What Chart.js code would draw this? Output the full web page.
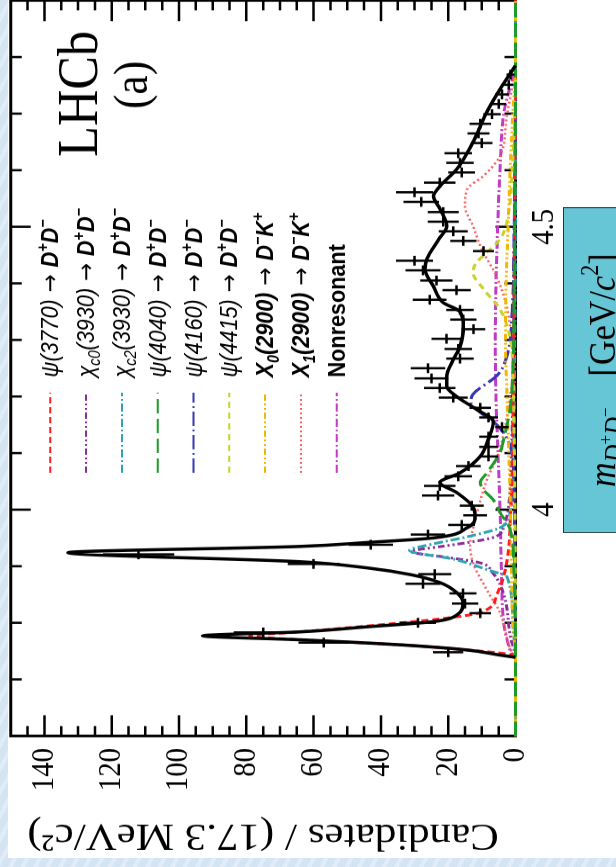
<!DOCTYPE html>
<html>
<head>
<meta charset="utf-8">
<script src="https://cdn.jsdelivr.net/npm/chart.js@4.4.1/dist/chart.umd.min.js"></script>
<style>
html, body { margin: 0; padding: 0; }
body { width: 616px; height: 867px; overflow: hidden; background: #d5e5f4; }
#page { position: relative; width: 616px; height: 867px; overflow: hidden;
  background: repeating-linear-gradient(118deg, #d4e4f3 0 7px, #e0ecf8 7px 11px); }
#sheet { position: absolute; left: 8px; top: 0; width: 608px; height: 858px; background: #fff; }
/* the figure is drawn upright, squeezed a little along the mass axis and turned a quarter turn, like on the slide */
#rot { position: absolute; left: 0; top: 0; width: 980px; height: 616px;
  transform-origin: 0 0; transform: translate(0px, 876px) rotate(-90deg) scaleX(0.9); }
#rot canvas { position: absolute; left: 0; top: 0; }
#xlabel { position: absolute; left: 381px; top: 563px; width: 362px; height: 62px;
  box-sizing: border-box; background: #67c6d6; border: 1.5px solid #24383c;
  font-family: "Liberation Serif", serif; line-height: 52px;
  text-align: center; color: #000; white-space: nowrap; overflow: hidden; }
#xlabelText { font-size: 38px; display: inline-block; }
#xlabel sub { font-size: 0.72em; vertical-align: -0.3em; }
#xlabel sub sup { font-size: 0.7em; vertical-align: 0.6em; }
#xlabelText > sup { font-size: 0.65em; vertical-align: 0.7em; }
#xlabel .gap { display: inline-block; width: 0.9em; }
</style>
</head>
<body>
<div id="page">
  <div id="sheet"></div>
  <div id="rot">
    <canvas id="chart" width="980" height="616"></canvas>
    <div id="xlabel"><span id="xlabelText"><i>m</i><sub><i>D</i><sup>+</sup><i>D</i><sup>&minus;</sup></sub><span class="gap"></span>[GeV/<i>c</i><sup>2</sup>]</span></div>
  </div>
</div>
<script>
// data (mass in GeV, candidates per bin)
const massBins = [3.748, 3.765, 3.783, 3.800, 3.817, 3.834, 3.852, 3.869, 3.886, 3.904,
  3.921, 3.938, 3.956, 3.973, 3.990, 4.007, 4.025, 4.042, 4.059, 4.077,
  4.094, 4.111, 4.129, 4.146, 4.163, 4.180, 4.198, 4.215, 4.232, 4.250,
  4.267, 4.284, 4.302, 4.319, 4.336, 4.353, 4.371, 4.388, 4.405, 4.423,
  4.440, 4.457, 4.475, 4.492, 4.509, 4.526, 4.544, 4.561, 4.578, 4.596,
  4.613, 4.630, 4.648, 4.665, 4.682, 4.699, 4.717, 4.734, 4.751, 4.769];
const counts = [20, 57, 75, 29, 10.5, 15, 15.6, 27.5, 24, 60,
  112, 43, 26, 16, 12, 13, 23, 22.5, 17, 14,
  8, 8, 8, 4, 8, 10.5, 18.5, 22.5, 25, 26,
  16.5, 17, 20.5, 12.5, 15.5, 16.5, 25.5, 17.5, 23.5, 27.5,
  30, 9.5, 15.5, 18.5, 21.5, 21.5, 28, 30, 22.5, 16,
  16.5, 17, 10, 11, 10.5, 7, 5, 4, 2, 1.5];
const countErrors = [4.5, 7.5, 8.7, 5.4, 3.2, 3.9, 4, 5.2, 4.9, 7.7,
  10.6, 6.6, 5.1, 4, 3.5, 3.6, 4.8, 4.7, 4.1, 3.7,
  2.8, 2.8, 2.8, 2, 2.8, 3.2, 4.3, 4.7, 5, 5.1,
  4.1, 4.1, 4.5, 3.5, 3.9, 4.1, 5, 4.2, 4.8, 5.2,
  5.5, 3.1, 3.9, 4.3, 4.6, 4.6, 5.3, 5.5, 4.7, 4,
  4.1, 4.1, 3.2, 3.3, 3.2, 2.6, 2.2, 2, 1.4, 1.2];
const binHalf = 0.00865;

// fit curves, [mass, candidates]
const fitTotal = [[3.739,0],[3.743,4.6],[3.752,14.4],[3.761,34],[3.770,64],[3.777,93],[3.784,64],[3.793,44],
  [3.802,24.5],[3.814,17.4],[3.835,15.6],[3.853,17.4],[3.871,22.4],[3.885,31],[3.897,44],[3.908,64],
  [3.924,133],[3.935,64],[3.942,44],[3.950,24.5],[3.968,14.4],[3.988,12],[4.005,12.6],[4.030,17.4],
  [4.048,22.4],[4.065,16.5],[4.094,10.5],[4.124,8.1],[4.156,6.6],[4.177,11.5],[4.200,17.5],[4.218,20.4],
  [4.235,20.4],[4.265,18.5],[4.288,16.5],[4.324,15.5],[4.350,16.5],[4.366,21.5],[4.395,24.4],[4.425,26.9],
  [4.442,26.4],[4.478,22.8],[4.501,20.4],[4.531,22.4],[4.554,24.4],[4.572,22.4],[4.602,17.4],[4.650,12.6],
  [4.703,8.5],[4.743,4.6],[4.785,0]];
const psi3770 = [[3.6,0],[3.739,0],[3.745,2.5],[3.752,14.4],[3.761,34],[3.770,64],[3.777,79],[3.784,64],
  [3.800,34],[3.807,22.4],[3.818,10.5],[3.850,5.5],[3.900,2.8],[4.000,1.4],[4.200,0.7],[4.500,0.3],[4.785,0],[4.9,0]];
const chic0 = [[3.6,0],[3.739,0],[3.775,1.5],[3.85,3.5],[3.89,7],[3.906,10.5],[3.915,19.5],[3.926,31],
  [3.935,22],[3.942,14],[3.952,6],[3.97,3.5],[4.0,2.2],[4.1,1.2],[4.3,0.6],[4.785,0],[4.9,0]];
const chic2 = [[3.6,0],[3.739,0],[3.8,0.8],[3.881,2.5],[3.894,8.5],[3.912,18],[3.928,31.5],[3.94,24],
  [3.952,14.4],[3.97,4],[4.0,1.5],[4.1,0.6],[4.785,0],[4.9,0]];
const psi4040 = [[3.6,0],[3.739,0],[3.9,0.5],[3.965,1.6],[3.995,4.6],[4.018,6.7],[4.035,9.5],[4.048,10.5],
  [4.065,8.5],[4.101,4.6],[4.119,3.7],[4.2,1.2],[4.4,0.4],[4.785,0],[4.9,0]];
const psi4160 = [[3.6,0],[3.739,0],[3.9,0.2],[4.05,0.5],[4.112,1.6],[4.150,5.5],[4.172,10.5],[4.190,13.3],
  [4.204,12.6],[4.239,5.2],[4.28,2.2],[4.35,1],[4.5,0.4],[4.785,0],[4.9,0]];
const psi4415 = [[3.6,0],[3.739,0],[4.2,0.6],[4.3,1.5],[4.354,4.6],[4.39,9.5],[4.419,12.6],[4.435,11.8],
  [4.455,8.5],[4.478,4.6],[4.52,2.2],[4.6,1],[4.785,0],[4.9,0]];
const x0_2900 = [[3.6,0],[3.739,0],[3.8,0.8],[3.9,1.2],[4.0,1.5],[4.1,2.0],[4.2,2.5],[4.3,3.0],[4.4,2.8],
  [4.5,2.2],[4.6,1.6],[4.7,0.8],[4.785,0],[4.9,0]];
const x1_2900 = [[3.6,0],[3.739,0],[3.744,0.7],[3.818,4.6],[3.858,8.5],[3.906,12.6],[3.935,13.5],[3.97,12.5],
  [4.0,11.2],[4.053,8.5],[4.1,5],[4.15,3],[4.2,1.6],[4.242,0.7],[4.3,1.2],[4.359,2.6],[4.412,5.6],[4.460,10],
  [4.501,12.6],[4.536,15],[4.566,14.4],[4.590,9.5],[4.625,4.6],[4.696,2.6],[4.756,0.7],[4.785,0],[4.9,0]];
const nonres = [[3.6,0],[3.739,0],[3.745,1.0],[3.77,2.5],[3.8,3.5],[3.9,4.2],[4.0,4.6],[4.1,5.2],[4.2,5.8],
  [4.3,6.0],[4.4,5.8],[4.5,5.3],[4.6,4.6],[4.7,3.5],[4.75,1.5],[4.785,0],[4.9,0]];

const xTickLabels = [4, 4.5];
const yTickLabels = [0, 20, 40, 60, 80, 100, 120, 140];

const toXY = arr => arr.map(p => ({x: p[0], y: p[1]}));

function curve(key, pts, color, dash, width, order) {
  return {
    key: key, data: toXY(pts), borderColor: color, borderDash: dash, borderWidth: width,
    pointRadius: 0, fill: false, cubicInterpolationMode: 'monotone', clip: false, order: order
  };
}

const components = [
  curve('psi3770', psi3770, '#ff1c1c', [7, 4], 3, 5),
  curve('chic0', chic0, '#8a2c9c', [7, 3, 2, 3, 2, 3], 3, 8),
  curve('chic2', chic2, '#2fa4b1', [9, 3, 2, 3], 3, 7),
  curve('psi4040', psi4040, '#1f9a2a', [16, 6], 3, 2),
  curve('psi4160', psi4160, '#3636b8', [16, 4, 2, 4], 3, 6),
  curve('psi4415', psi4415, '#c9d22a', [7, 5], 3, 4),
  curve('x0', x0_2900, '#f2b600', [7, 3, 2, 3, 2, 3], 3, 3),
  curve('x1', x1_2900, '#ff5a5a', [2, 3], 2.5, 9),
  curve('nonres', nonres, '#c23bc2', [9, 3, 2, 3], 3, 10)
];

const legendRows = [
  ['psi3770', [['ψ(3770)', 'i'], [' → ', 'n'], ['D', 'bi'], ['+', 'sup'], ['D', 'bi'], ['−', 'sup']]],
  ['chic0', [['χ', 'i'], ['c0', 'sub'], ['(3930)', 'i'], [' → ', 'n'], ['D', 'bi'], ['+', 'sup'], ['D', 'bi'], ['−', 'sup']]],
  ['chic2', [['χ', 'i'], ['c2', 'sub'], ['(3930)', 'i'], [' → ', 'n'], ['D', 'bi'], ['+', 'sup'], ['D', 'bi'], ['−', 'sup']]],
  ['psi4040', [['ψ(4040)', 'i'], [' → ', 'n'], ['D', 'bi'], ['+', 'sup'], ['D', 'bi'], ['−', 'sup']]],
  ['psi4160', [['ψ(4160)', 'i'], [' → ', 'n'], ['D', 'bi'], ['+', 'sup'], ['D', 'bi'], ['−', 'sup']]],
  ['psi4415', [['ψ(4415)', 'i'], [' → ', 'n'], ['D', 'bi'], ['+', 'sup'], ['D', 'bi'], ['−', 'sup']]],
  ['x0', [['X', 'bi'], ['0', 'bsub'], ['(2900)', 'bi'], [' → ', 'n'], ['D', 'bi'], ['−', 'sup'], ['K', 'bi'], ['+', 'sup']]],
  ['x1', [['X', 'bi'], ['1', 'bsub'], ['(2900)', 'bi'], [' → ', 'n'], ['D', 'bi'], ['−', 'sup'], ['K', 'bi'], ['+', 'sup']]],
  ['nonres', [['Nonresonant', 'b']]]
];
const legendFonts = {
  i: 'italic 24px "Liberation Sans"',
  n: '24px "DejaVu Sans"',
  bi: 'bold italic 24px "Liberation Sans"',
  b: 'bold 24px "Liberation Sans"',
  sup: 'bold italic 16px "Liberation Sans"',
  sub: 'italic 16px "Liberation Sans"',
  bsub: 'bold italic 16px "Liberation Sans"'
};
const legendShift = {sup: -10, sub: 6, bsub: 6};

// frame with inward ticks, drawn under the curves
const frameTicks = {
  id: 'frameTicks',
  beforeDatasetsDraw(chart) {
    const {ctx, chartArea: a, scales: {x, y}} = chart;
    ctx.save();
    ctx.strokeStyle = '#000';
    ctx.lineWidth = 3;
    ctx.strokeRect(a.left, a.top, a.right - a.left, a.bottom - a.top);
    ctx.lineWidth = 2.5;
    ctx.beginPath();
    for (let v = 5; v < 150; v += 5) {
      const py = y.getPixelForValue(v);
      const len = v % 20 === 0 ? 23 : 11;
      ctx.moveTo(a.left, py); ctx.lineTo(a.left + len, py);
      ctx.moveTo(a.right, py); ctx.lineTo(a.right - len, py);
    }
    for (let k = 37; k <= 48; k++) {
      const px = x.getPixelForValue(k / 10);
      const len = k % 5 === 0 ? 20 : 11;
      ctx.moveTo(px, a.bottom); ctx.lineTo(px, a.bottom - len);
      ctx.moveTo(px, a.top); ctx.lineTo(px, a.top + len);
    }
    ctx.stroke();
    ctx.restore();
  }
};

// data crosses: statistical error and bin width
const errorBars = {
  id: 'errorBars',
  afterDatasetsDraw(chart) {
    const {ctx, scales: {x, y}} = chart;
    const pts = chart.data.datasets.find(d => d.key === 'data').data;
    ctx.save();
    ctx.strokeStyle = '#000';
    ctx.lineWidth = 2.5;
    ctx.beginPath();
    pts.forEach((p, i) => {
      const px = x.getPixelForValue(p.x), py = y.getPixelForValue(p.y);
      ctx.moveTo(px, y.getPixelForValue(p.y - countErrors[i]));
      ctx.lineTo(px, y.getPixelForValue(p.y + countErrors[i]));
      ctx.moveTo(x.getPixelForValue(p.x - binHalf), py);
      ctx.lineTo(x.getPixelForValue(p.x + binHalf), py);
    });
    ctx.stroke();
    ctx.restore();
  }
};

// legend and LHCb label
const labels = {
  id: 'labels',
  afterDraw(chart) {
    const ctx = chart.ctx;
    ctx.save();
    legendRows.forEach((row, i) => {
      const ds = chart.data.datasets.find(d => d.key === row[0]);
      const yc = 50.3 + 35.8 * i;
      ctx.strokeStyle = ds.borderColor;
      ctx.lineWidth = 2;
      ctx.setLineDash(ds.borderDash);
      ctx.beginPath();
      ctx.moveTo(448, yc); ctx.lineTo(537, yc);
      ctx.stroke();
      ctx.setLineDash([]);
      let xt = 554;
      ctx.fillStyle = '#000';
      ctx.textBaseline = 'alphabetic';
      row[1].forEach(part => {
        ctx.font = legendFonts[part[1]];
        ctx.fillText(part[0], xt, yc + 8 + (legendShift[part[1]] || 0));
        xt += ctx.measureText(part[0]).width;
      });
    });
    ctx.fillStyle = '#000';
    ctx.font = '56px "Liberation Serif"';
    ctx.fillText('LHCb', 799, 97);
    ctx.font = '48px "Liberation Serif"';
    ctx.textAlign = 'center';
    ctx.fillText('(a)', 879, 147);
    ctx.restore();
  }
};

const ctx = document.getElementById('chart').getContext('2d');
const myChart = new Chart(ctx, {
  type: 'line',
  data: {
    datasets: [
      { key: 'fit', data: toXY(fitTotal), borderColor: '#000', borderWidth: 3.5, pointRadius: 0,
        fill: false, cubicInterpolationMode: 'monotone', clip: false, order: 0 },
      { key: 'data', type: 'scatter', data: massBins.map((m, i) => ({x: m, y: counts[i]})),
        showLine: false, pointRadius: 0, order: 1 }
    ].concat(components)
  },
  options: {
    responsive: false,
    animation: false,
    devicePixelRatio: 1,
    layout: { padding: { left: 0, right: 7.2, top: 10.75, bottom: 0 } },
    plugins: { legend: { display: false }, tooltip: { enabled: false } },
    scales: {
      x: {
        type: 'linear', min: 3.6, max: 4.9,
        grid: { display: false, drawTicks: false }, border: { display: false },
        afterFit(scale) { scale.height = 100.5; scale.paddingLeft = 0; scale.paddingRight = 0; },
        afterBuildTicks(scale) { scale.ticks = xTickLabels.map(v => ({value: v})); },
        ticks: { font: { family: 'Liberation Serif', size: 32 }, color: '#000', padding: 10,
          maxRotation: 0, autoSkip: false, callback: v => String(v) }
      },
      y: {
        type: 'linear', min: 0, max: 150,
        grid: { display: false, drawTicks: false }, border: { display: false },
        afterFit(scale) { scale.width = 155.6; scale.paddingTop = 0; scale.paddingBottom = 0; },
        afterBuildTicks(scale) { scale.ticks = yTickLabels.map(v => ({value: v})); },
        ticks: { font: { family: 'Liberation Serif', size: 32 }, color: '#000', padding: 13.4 },
        title: { display: true, text: 'Candidates / (17.3 MeV/c²)', color: '#000',
          font: { family: 'Liberation Serif', size: 43 }, padding: { top: 19.7, bottom: 0 } }
      }
    }
  },
  plugins: [frameTicks, errorBars, labels]
});

// keep the axis label inside its box
const labelText = document.getElementById('xlabelText');
const labelWidth = labelText.offsetWidth;
if (labelWidth > 300) {
  labelText.style.fontSize = (38 * 300 / labelWidth).toFixed(1) + 'px';
}
</script>
</body>
</html>
